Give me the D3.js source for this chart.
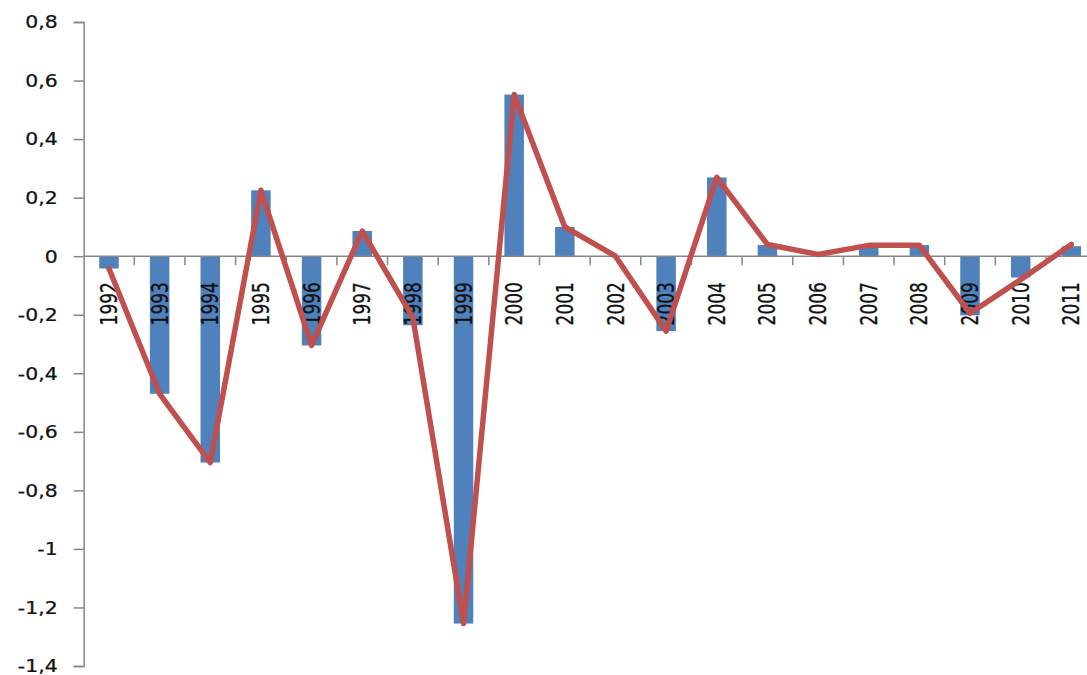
<!DOCTYPE html>
<html>
<head>
<meta charset="utf-8">
<script src="https://cdn.jsdelivr.net/npm/d3@7"></script>
<style>
  html, body { margin: 0; padding: 0; background: #fff; }
  svg { display: block; }
  text { font-family: "DejaVu Sans", Verdana, sans-serif; fill: #111; stroke: #111; stroke-width: 0.25; }
</style>
</head>
<body>
<svg id="chart" width="1087" height="675"></svg>
<script>
// Annual change, 1992–2011
const years = ["1992","1993","1994","1995","1996","1997","1998","1999","2000","2001",
               "2002","2003","2004","2005","2006","2007","2008","2009","2010","2011"];
const barValues = [-0.042, -0.47, -0.705, 0.225, -0.305, 0.086, -0.236, -1.255, 0.552, 0.10,
                   0, -0.256, 0.269, 0.038, 0, 0.038, 0.038, -0.202, -0.073, 0.034];
const lineValues = [-0.042, -0.47, -0.705, 0.225, -0.305, 0.086, -0.21, -1.255, 0.552, 0.10,
                    0, -0.256, 0.269, 0.04, 0.006, 0.037, 0.037, -0.195, -0.08, 0.04];
const yTicks = [0.8, 0.6, 0.4, 0.2, 0, -0.2, -0.4, -0.6, -0.8, -1, -1.2, -1.4];

const svg = d3.select("#chart");
const plotLeft = 83.65, bandStep = 50.65, plotTop = 22, plotBottom = 666;

const x = d3.scaleBand().domain(years).range([plotLeft, plotLeft + bandStep * years.length]).padding(0);
const y = d3.scaleLinear().domain([-1.4, 0.8]).range([plotBottom, plotTop]);
const fmt = d => d === 0 ? "0" : String(+d.toFixed(1)).replace(".", ",");

// Bars
const barW = x.bandwidth() * 0.385;
svg.append("g").selectAll("rect").data(barValues).join("rect")
  .attr("x", (d, i) => x(years[i]) + (x.bandwidth() - barW) / 2)
  .attr("y", d => y(Math.max(0, d)))
  .attr("width", barW)
  .attr("height", d => Math.abs(y(d) - y(0)))
  .attr("fill", "#4F81BD");

// Y axis
const yAxis = svg.append("g").attr("transform", `translate(${plotLeft},0)`)
  .call(d3.axisLeft(y).tickValues(yTicks).tickFormat(fmt).tickSize(10).tickPadding(16));
yAxis.select(".domain").attr("stroke", "#868686").attr("stroke-width", 1.5);
yAxis.selectAll(".tick line").attr("stroke", "#868686").attr("stroke-width", 1.5);
yAxis.selectAll(".tick text")
  .attr("font-size", 17)
  .attr("x", null).attr("dy", null)
  .attr("dominant-baseline", "central")
  .attr("transform", "translate(-26,0) scale(1.2,1)")
  .attr("text-anchor", "end");

// X axis along zero
const xAxis = svg.append("g").attr("transform", `translate(0,${y(0)})`);
xAxis.append("line")
  .attr("x1", plotLeft).attr("x2", 1087)
  .attr("stroke", "#868686").attr("stroke-width", 1.5);
xAxis.selectAll("line.tk").data(years.slice(1)).join("line")
  .attr("class", "tk")
  .attr("x1", d => x(d)).attr("x2", d => x(d))
  .attr("y1", 0).attr("y2", 9)
  .attr("stroke", "#868686").attr("stroke-width", 1.5);
xAxis.selectAll("text").data(years).join("text")
  .attr("transform", d => `translate(${x(d) + x.bandwidth() / 2},26) scale(1.4,1) rotate(-90)`)
  .attr("text-anchor", "end")
  .attr("dominant-baseline", "central")
  .attr("font-size", 17)
  .text(d => d);

// Line
const line = d3.line()
  .x((d, i) => x(years[i]) + x.bandwidth() / 2)
  .y(d => y(d));
svg.append("path").datum(lineValues)
  .attr("d", line)
  .attr("fill", "none")
  .attr("stroke", "#C0504D")
  .attr("stroke-width", 5.5)
  .attr("stroke-linejoin", "round")
  .attr("stroke-linecap", "round");
</script>
</body>
</html>
